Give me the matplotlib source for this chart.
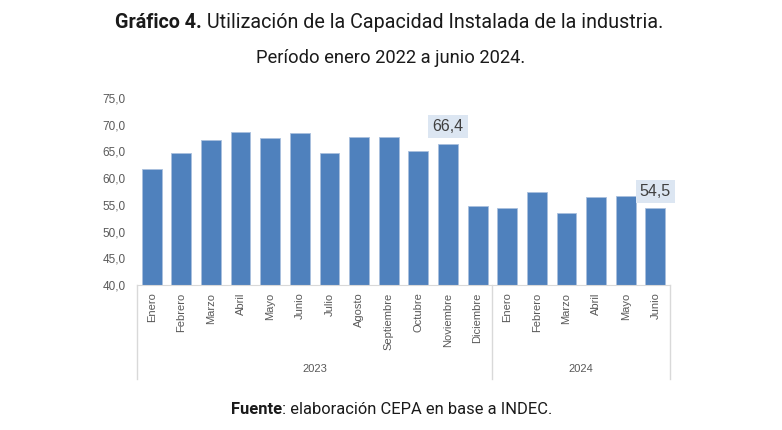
"""
Gráfico 4: utilización de la capacidad instalada de la industria
"""

import matplotlib.pyplot as plt
import numpy as np

# Datos
meses = ['Enero', 'Febrero', 'Marzo', 'Abril', 'Mayo', 'Junio', 'Julio', 'Agosto',
         'Septiembre', 'Octubre', 'Noviembre', 'Diciembre',
         'Enero', 'Febrero', 'Marzo', 'Abril', 'Mayo', 'Junio']
anios = ['2023', '2024']
meses_por_anio = [12, 6]
valores = [61.8, 64.8, 67.2, 68.7, 67.6, 68.4, 64.8, 67.8, 67.8, 65.1, 66.4, 54.8,
           54.5, 57.5, 53.4, 56.5, 56.7, 54.5]
etiquetados = [10, 17]  # barras con etiqueta de valor

azul = '#4f81bd'
gris = '#595959'
linea = '#d9d9d9'
negro = '#1a1a1a'

fig = plt.figure(figsize=(7.82, 4.30), dpi=100)
ax = fig.add_axes([0.175, 0.337, 0.682, 0.435])

x = np.arange(len(valores))
ax.bar(x, valores, width=0.67, color=azul, edgecolor='#a9c0de', linewidth=0.6, zorder=2)

ax.set_ylim(40, 75)
ax.set_xlim(-0.5, len(valores) - 0.5)
yt = np.arange(40, 76, 5)
ax.set_yticks(yt)
ax.set_yticklabels([f'{v:.1f}'.replace('.', ',') for v in yt],
                   fontsize=8.5, color=gris, family='Liberation Sans')
ax.tick_params(axis='y', length=0, pad=8)
ax.set_xticks([])
for s in ['top', 'right', 'left']:
    ax.spines[s].set_visible(False)
ax.spines['bottom'].set_color(linea)

# Etiquetas de meses (rotadas) y años
trans = ax.get_xaxis_transform()
for i, m in enumerate(meses):
    ax.text(i, -0.04, m, rotation=90, ha='center', va='top', fontsize=8,
            color=gris, family='Liberation Sans', transform=trans)

inicio = -0.5
for anio, n in zip(anios, meses_por_anio):
    fin = inicio + n
    ax.text((inicio + fin) / 2, -0.45, anio, ha='center', va='center', fontsize=8,
            color=gris, family='Liberation Sans', transform=trans)
    inicio = fin

bordes = np.concatenate([[-0.5], -0.5 + np.cumsum(meses_por_anio)])
for b in bordes:
    ax.plot([b, b], [0, -0.5], color=linea, lw=1, transform=trans, clip_on=False)

# Etiquetas de valor
for i in etiquetados:
    txt = f'{valores[i]:.1f}'.replace('.', ',')
    dy = 3.2 if i == 10 else 3.0
    ax.text(i, valores[i] + dy, txt, ha='center', va='center', fontsize=11.5,
            color='#404040', family='Liberation Sans', zorder=3,
            bbox=dict(boxstyle='square,pad=0.25', fc='#dce6f2', ec='none'))


def texto_mixto(y, negrita, normal, x0, size):
    # parte en negrita seguida de texto normal
    t = fig.text(x0, y, negrita, ha='left', va='center', fontsize=size,
                 fontweight='bold', family='Roboto', color=negro)
    fig.canvas.draw()
    bb = t.get_window_extent()
    fig.text(bb.x1 / fig.bbox.width, y, normal, ha='left', va='center',
             fontsize=size, family='Roboto', color=negro)


# Títulos y fuente
texto_mixto(0.948, 'Gráfico 4.', ' Utilización de la Capacidad Instalada de la industria.',
            0.147, 14.25)
fig.text(0.5, 0.865, 'Período enero 2022 a junio 2024.', ha='center', va='center',
         fontsize=13.2, family='Roboto', color=negro)
texto_mixto(0.047, 'Fuente', ': elaboración CEPA en base a INDEC.', 0.295, 11.9)

fig.savefig('out.png', dpi=100)
